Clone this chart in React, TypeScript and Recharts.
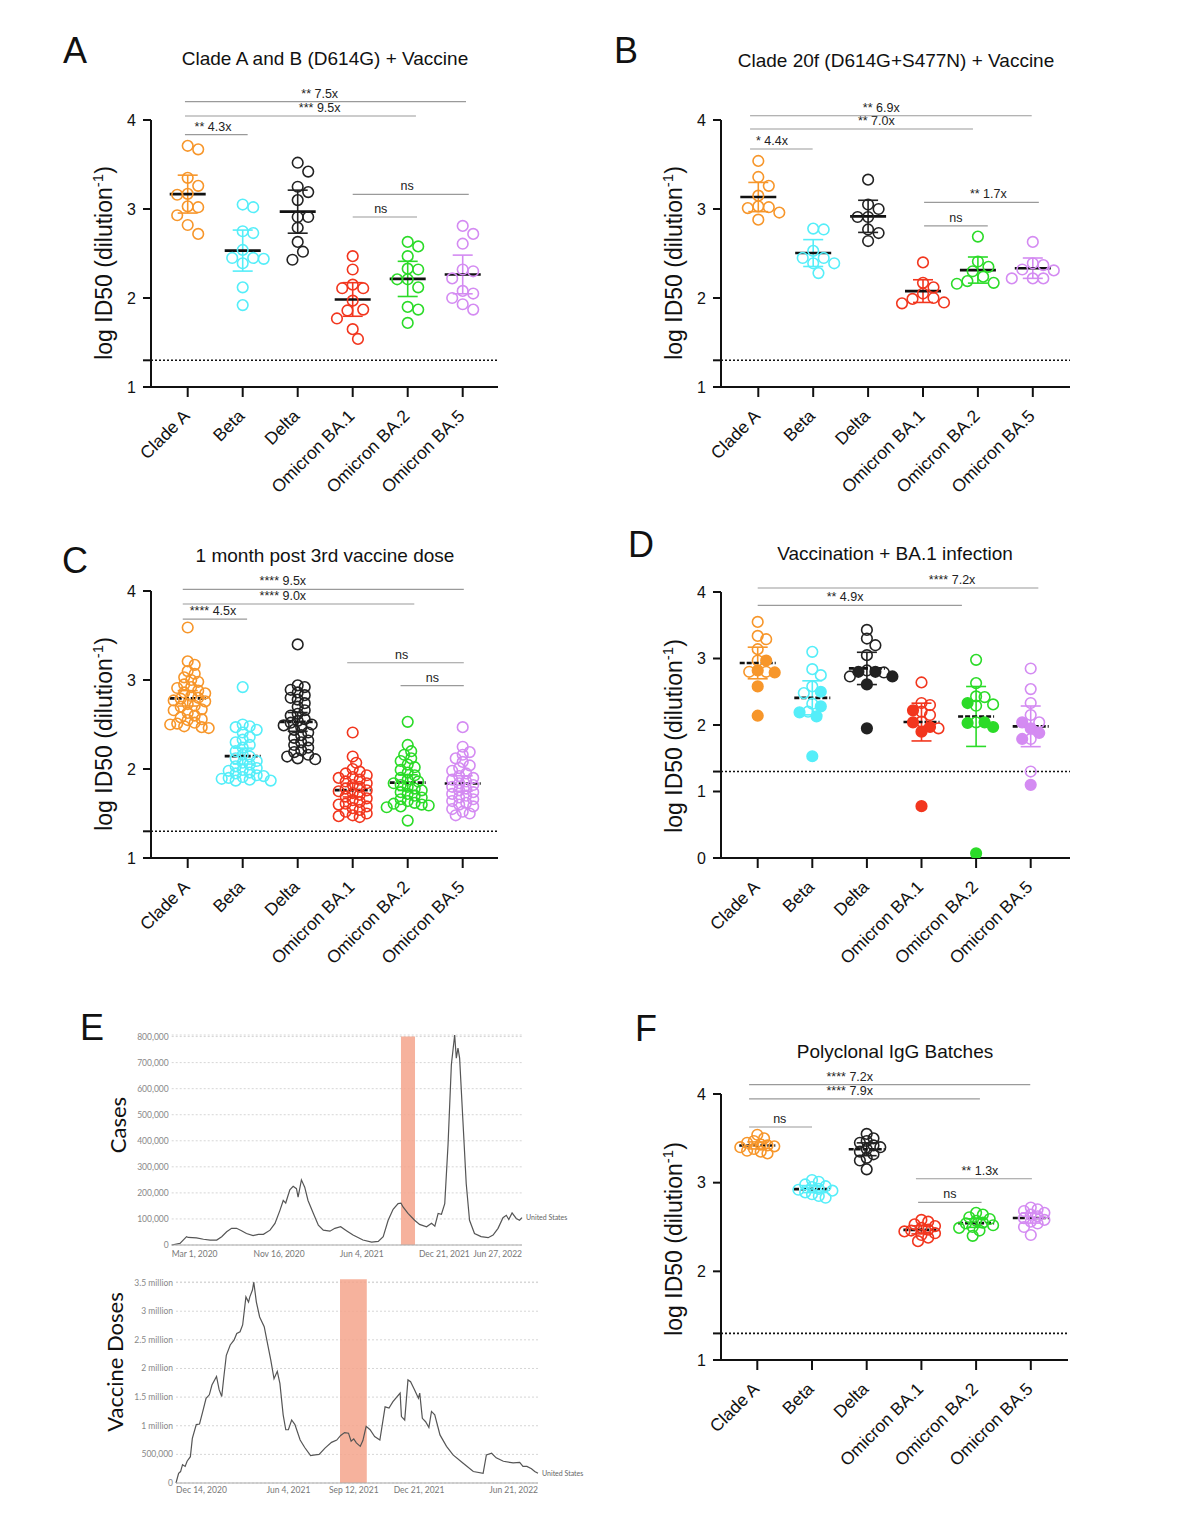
import React from "react";
import {
  CartesianGrid,
  Line,
  LineChart,
  ReferenceArea,
  ReferenceLine,
  Scatter,
  ScatterChart,
  XAxis,
  YAxis,
} from "recharts";

const FONT = '"Liberation Sans", Arial, Helvetica, sans-serif';
const OWID = 'Lato, "Open Sans", sans-serif';

const variants = ["Clade A", "Beta", "Delta", "Omicron BA.1", "Omicron BA.2", "Omicron BA.5"];
const variantColors = ["#F7962A", "#55EEF9", "#222222", "#F2361E", "#2BDB28", "#D48BF2"];

// log ID50 per serum sample, one list per variant (same order as `variants`)
const d614gVaccine = [
  [3.71, 3.67, 3.35, 3.26, 3.17, 3.16, 3.03, 3.02, 2.93, 2.82, 2.72],
  [3.05, 3.02, 2.75, 2.73, 2.54, 2.45, 2.45, 2.44, 2.39, 2.12, 1.92],
  [3.52, 3.42, 3.25, 3.19, 3.1, 2.91, 2.91, 2.79, 2.63, 2.52, 2.43],
  [2.47, 2.32, 2.15, 2.11, 2.11, 1.97, 1.87, 1.86, 1.77, 1.65, 1.54],
  [2.63, 2.58, 2.47, 2.33, 2.32, 2.21, 2.21, 2.12, 1.9, 1.87, 1.72],
  [2.81, 2.72, 2.61, 2.32, 2.3, 2.22, 2.08, 2.05, 2.0, 1.93, 1.87],
];

const s477nVaccine = [
  [3.54, 3.36, 3.26, 3.15, 3.03, 3.02, 3.01, 2.96, 2.88],
  [2.78, 2.77, 2.53, 2.45, 2.45, 2.39, 2.39, 2.28],
  [3.33, 3.05, 3.0, 2.91, 2.91, 2.77, 2.73, 2.64],
  [2.4, 2.17, 2.12, 2.05, 2.0, 1.99, 1.95, 1.94],
  [2.69, 2.41, 2.35, 2.3, 2.24, 2.19, 2.17, 2.16],
  [2.63, 2.39, 2.37, 2.32, 2.31, 2.22, 2.22, 2.22],
];

const thirdDose = [
  [3.59, 3.21, 3.17, 3.1, 3.07, 3.03, 3.0, 2.98, 2.95, 2.92, 2.91, 2.88, 2.86, 2.85, 2.82, 2.8, 2.79, 2.77,
    2.76, 2.73, 2.71, 2.7, 2.67, 2.66, 2.63, 2.6, 2.58, 2.56, 2.55, 2.52, 2.51, 2.5, 2.48, 2.47, 2.46],
  [2.92, 2.5, 2.48, 2.47, 2.44, 2.41, 2.36, 2.33, 2.3, 2.27, 2.24, 2.2, 2.16, 2.14, 2.12, 2.09, 2.07, 2.05,
    2.03, 2.01, 1.99, 1.98, 1.96, 1.95, 1.93, 1.92, 1.91, 1.9, 1.89, 1.88, 1.87, 1.87],
  [3.4, 2.94, 2.92, 2.89, 2.86, 2.83, 2.8, 2.78, 2.74, 2.7, 2.66, 2.62, 2.6, 2.56, 2.54, 2.52, 2.5, 2.49,
    2.47, 2.44, 2.41, 2.38, 2.35, 2.32, 2.3, 2.27, 2.24, 2.21, 2.19, 2.16, 2.14, 2.12, 2.11],
  [2.41, 2.14, 2.07, 2.0, 1.97, 1.95, 1.93, 1.91, 1.9, 1.88, 1.86, 1.84, 1.82, 1.8, 1.78, 1.76, 1.75, 1.73,
    1.71, 1.69, 1.67, 1.65, 1.63, 1.61, 1.6, 1.58, 1.56, 1.54, 1.52, 1.5, 1.48, 1.47, 1.46],
  [2.53, 2.27, 2.2, 2.16, 2.12, 2.09, 2.05, 2.02, 1.99, 1.96, 1.93, 1.9, 1.88, 1.86, 1.84, 1.82, 1.8, 1.78,
    1.76, 1.74, 1.72, 1.7, 1.68, 1.66, 1.64, 1.62, 1.61, 1.6, 1.59, 1.58, 1.57, 1.42],
  [2.47, 2.25, 2.19, 2.16, 2.12, 2.08, 2.04, 2.01, 1.98, 1.95, 1.92, 1.9, 1.88, 1.86, 1.84, 1.82, 1.8, 1.78,
    1.76, 1.74, 1.72, 1.7, 1.68, 1.66, 1.64, 1.62, 1.6, 1.58, 1.55, 1.52, 1.5, 1.48],
];

// vaccination + BA.1 infection: open and filled symbols
const ba1InfectionOpen = [
  [3.55, 3.34, 3.29, 3.14, 2.97, 2.8, 2.8],
  [3.1, 2.84, 2.75, 2.58, 2.48, 2.32, 2.2],
  [3.43, 3.3, 3.2, 3.05, 2.79, 2.82, 2.73],
  [2.64, 2.33, 2.3, 2.2, 2.15, 2.05, 1.95],
  [2.98, 2.63, 2.43, 2.42, 2.31, 2.29, 2.04],
  [2.85, 2.54, 2.33, 2.15, 2.04, 1.79, 1.3],
];
const ba1InfectionFilled = [
  [2.97, 2.82, 2.79, 2.58, 2.14],
  [2.5, 2.28, 2.19, 2.13, 1.53],
  [2.8, 2.8, 2.73, 2.61, 1.95],
  [2.22, 2.04, 1.97, 1.9, 0.78],
  [2.33, 2.04, 2.03, 1.97, 0.07],
  [2.04, 1.95, 1.88, 1.79, 1.1],
];

const iggBatches = [
  [3.54, 3.5, 3.47, 3.45, 3.43, 3.42, 3.41, 3.4, 3.38, 3.36, 3.35, 3.33],
  [3.03, 3.01, 2.98, 2.96, 2.95, 2.93, 2.92, 2.91, 2.89, 2.87, 2.85, 2.83],
  [3.55, 3.5, 3.47, 3.45, 3.42, 3.4, 3.38, 3.35, 3.32, 3.28, 3.25, 3.15],
  [2.58, 2.56, 2.53, 2.51, 2.49, 2.47, 2.46, 2.45, 2.43, 2.41, 2.38, 2.34],
  [2.66, 2.64, 2.61, 2.59, 2.57, 2.55, 2.54, 2.52, 2.5, 2.49, 2.46, 2.4],
  [2.72, 2.7, 2.68, 2.66, 2.64, 2.62, 2.6, 2.58, 2.56, 2.54, 2.5, 2.41],
];

// comparison brackets: x1/x2/at in category units, level in log ID50
type Bracket = { x1: number; x2: number; level: number; text: string; at: number };

const d614gBrackets: Bracket[] = [
  { x1: -0.05, x2: 1.09, level: 3.835, text: "** 4.3x", at: 0.46 },
  { x1: -0.05, x2: 4.15, level: 4.045, text: "*** 9.5x", at: 2.4 },
  { x1: -0.05, x2: 5.06, level: 4.206, text: "** 7.5x", at: 2.4 },
  { x1: 3.0, x2: 5.11, level: 3.165, text: "ns", at: 3.99 },
  { x1: 3.0, x2: 4.17, level: 2.91, text: "ns", at: 3.51 },
];
const s477nBrackets: Bracket[] = [
  { x1: -0.15, x2: 0.99, level: 3.674, text: "* 4.4x", at: 0.25 },
  { x1: -0.15, x2: 3.91, level: 3.899, text: "** 7.0x", at: 2.15 },
  { x1: -0.15, x2: 4.98, level: 4.048, text: "** 6.9x", at: 2.24 },
  { x1: 3.02, x2: 4.18, level: 2.81, text: "ns", at: 3.6 },
  { x1: 3.02, x2: 5.11, level: 3.075, text: "** 1.7x", at: 4.19 },
];
const thirdDoseBrackets: Bracket[] = [
  { x1: -0.09, x2: 1.08, level: 3.685, text: "**** 4.5x", at: 0.46 },
  { x1: -0.09, x2: 4.12, level: 3.854, text: "**** 9.0x", at: 1.73 },
  { x1: -0.09, x2: 5.02, level: 4.019, text: "**** 9.5x", at: 1.73 },
  { x1: 2.9, x2: 5.02, level: 3.194, text: "ns", at: 3.89 },
  { x1: 3.87, x2: 5.02, level: 2.936, text: "ns", at: 4.45 },
];
const ba1InfectionBrackets: Bracket[] = [
  { x1: 0, x2: 3.74, level: 3.8, text: "**  4.9x", at: 1.6 },
  { x1: 0, x2: 5.14, level: 4.06, text: "**** 7.2x", at: 3.56 },
];
const iggBrackets: Bracket[] = [
  { x1: -0.15, x2: 1.0, level: 3.628, text: "ns", at: 0.41 },
  { x1: -0.15, x2: 4.07, level: 3.944, text: "**** 7.9x", at: 1.69 },
  { x1: -0.15, x2: 4.99, level: 4.105, text: "**** 7.2x", at: 1.69 },
  { x1: 2.94, x2: 4.1, level: 2.777, text: "ns", at: 3.52 },
  { x1: 2.9, x2: 5.02, level: 3.044, text: "** 1.3x", at: 4.07 },
];

// US daily cases (thousands), days since Mar 1, 2020
const caseDays = [0, 20, 36, 40, 60, 77, 93, 109, 121, 133, 145, 157, 169, 181, 197, 210, 222, 238, 250, 262,
  270, 276, 286, 294, 302, 306, 314, 322, 330, 343, 355, 367, 383, 395, 409, 423, 439, 463, 484, 500, 512, 524,
  536, 548, 555, 560, 572, 588, 600, 617, 629, 637, 645, 653, 661, 669, 677, 685, 689, 693, 697, 705, 713, 721,
  733, 749, 766, 778, 790, 802, 810, 816, 824, 834, 842, 848];
const caseThousands = [0, 6, 32, 29, 27, 22, 19, 19, 32, 51, 64, 64, 55, 44, 36, 41, 41, 57, 83, 133,
  171, 161, 212, 225, 216, 184, 250, 222, 171, 121, 76, 57, 53, 64, 70, 55, 38, 19, 11, 14, 32, 95,
  137, 159, 161, 146, 121, 95, 79, 70, 83, 72, 121, 118, 159, 387, 692, 806, 717, 756, 717, 476, 235, 95,
  44, 32, 28, 38, 64, 105, 114, 98, 123, 102, 95, 105];
const caseTickDays = [0, 260, 460, 660, 848];
const caseTickLabels = ["Mar 1, 2020", "Nov 16, 2020", "Jun 4, 2021", "Dec 21, 2021", "Jun 27, 2022"];
const caseBand = [555, 589];

// US daily vaccine doses (millions), days since Dec 14, 2020
const doseDays = [0, 4, 7, 10, 14, 17, 22, 25, 31, 36, 41, 46, 51, 55, 62, 66, 70, 73, 77, 83, 89, 93, 98, 102,
  107, 111, 113, 117, 119, 123, 128, 135, 140, 145, 150, 155, 159, 164, 168, 172, 177, 182, 190, 197, 206, 213,
  219, 228, 238, 246, 252, 258, 264, 268, 272, 276, 282, 286, 291, 297, 304, 312, 320, 326, 332, 343, 345, 350,
  355, 359, 365, 371, 373, 377, 382, 387, 391, 396, 404, 414, 424, 439, 455, 470, 475, 483, 490, 501, 516, 526,
  531, 537, 544, 549, 554];
const doseMillions = [0, 0.17, 0.2, 0.32, 0.29, 0.38, 0.46, 0.78, 1.02, 1.03, 1.25, 1.48, 1.54, 1.71, 1.86, 1.63,
  1.51, 1.83, 2.23, 2.41, 2.5, 2.61, 2.64, 2.76, 3.25, 3.16, 3.25, 3.37, 3.51, 3.16, 2.9, 2.73, 2.44, 2.15, 1.82,
  1.95, 1.74, 1.19, 0.93, 0.93, 1.1, 1.02, 0.75, 0.62, 0.48, 0.49, 0.5, 0.61, 0.71, 0.75, 0.83, 0.88, 0.87, 0.73,
  0.77, 0.7, 0.64, 0.74, 0.99, 0.93, 0.81, 0.75, 1.33, 1.31, 1.42, 1.57, 1.16, 1.1, 1.8, 1.77, 1.63, 1.48, 1.57,
  1.13, 1.07, 0.97, 1.25, 1.19, 0.84, 0.64, 0.49, 0.35, 0.2, 0.17, 0.49, 0.52, 0.44, 0.38, 0.35, 0.36, 0.29, 0.29,
  0.25, 0.2, 0.17];
const doseTickDays = [0, 172, 272, 372, 554];
const doseTickLabels = ["Dec 14, 2020", "Jun 4, 2021", "Sep 12, 2021", "Dec 21, 2021", "Jun 21, 2022"];
const doseBand = [251, 292];

type Panel = {
  groups: number[][];
  filled?: number[][];
  brackets: Bracket[];
  box: { left: number; top: number; width: number; height: number };
  cat0: number;
  step: number;
  yDomain: [number, number];
  yTicks: number[];
  dashedMean: boolean;
  minDist: number;
};

const panels: Panel[] = [
  { groups: d614gVaccine, brackets: d614gBrackets, box: { left: 151, top: 120, width: 347, height: 267 },
    cat0: 187.7, step: 55, yDomain: [1, 4], yTicks: [1, 1.3, 2, 3, 4], dashedMean: false, minDist: 10.5 },
  { groups: s477nVaccine, brackets: s477nBrackets, box: { left: 721, top: 120, width: 349, height: 267 },
    cat0: 758.3, step: 54.9, yDomain: [1, 4], yTicks: [1, 1.3, 2, 3, 4], dashedMean: false, minDist: 10.5 },
  { groups: thirdDose, brackets: thirdDoseBrackets, box: { left: 151, top: 591, width: 347, height: 267 },
    cat0: 187.7, step: 55, yDomain: [1, 4], yTicks: [1, 1.3, 2, 3, 4], dashedMean: true, minDist: 7 },
  { groups: ba1InfectionOpen, filled: ba1InfectionFilled, brackets: ba1InfectionBrackets,
    box: { left: 721, top: 592, width: 349, height: 266 }, cat0: 757.7, step: 54.6, yDomain: [0, 4],
    yTicks: [0, 1, 1.3, 2, 3, 4], dashedMean: true, minDist: 8.5 },
  { groups: iggBatches, brackets: iggBrackets, box: { left: 721, top: 1094, width: 347, height: 266 },
    cat0: 757.3, step: 54.7, yDomain: [1, 4], yTicks: [1, 1.3, 2, 3, 4], dashedMean: true, minDist: 6.8 },
];

// simple beeswarm: returns horizontal pixel offsets for each value
function swarm(values: number[], pxPerUnit: number, minDist: number) {
  const order = values.map((_, i) => i).sort((a, b) => values[b] - values[a]);
  const placed: { x: number; y: number }[] = [];
  const offsets = new Array(values.length).fill(0);
  const stepPx = minDist / 2;
  for (const i of order) {
    const y = values[i] * pxPerUnit;
    let chosen = 0;
    for (let k = 0; k < 60; k++) {
      const cand = k === 0 ? 0 : (k % 2 ? 1 : -1) * Math.ceil(k / 2) * stepPx;
      if (placed.every((p) => Math.hypot(p.x - cand, p.y - y) >= minDist)) {
        chosen = cand;
        break;
      }
    }
    placed.push({ x: chosen, y });
    offsets[i] = chosen;
  }
  return offsets;
}

// mean with 95% confidence interval
function meanCI(values: number[]) {
  const n = values.length;
  const mean = values.reduce((s, v) => s + v, 0) / n;
  const sd = Math.sqrt(values.reduce((s, v) => s + (v - mean) ** 2, 0) / (n - 1));
  const df = n - 1;
  const z = 1.96;
  const t = z + (z ** 3 + z) / (4 * df) + (5 * z ** 5 + 16 * z ** 3 + 3 * z) / (96 * df * df);
  const half = (t * sd) / Math.sqrt(n);
  return { mean, lo: mean - half, hi: mean + half };
}

function VariantTick(props: any) {
  const { x, y, payload } = props;
  const tx = x + 3;
  const ty = y + 18;
  return (
    <text x={tx} y={ty} textAnchor="end" transform={`rotate(-45 ${tx} ${ty})`} fontSize={17.5}
      fontFamily={FONT} fill="#111">
      {variants[payload.value]}
    </text>
  );
}

const ring = (color: string, solid: boolean) => (p: any) => (
  <circle cx={p.cx} cy={p.cy} r={5.3} fill={solid ? color : "none"} stroke={color} strokeWidth={1.6} />
);

function DotPanel({ panel }: { panel: Panel }) {
  const { box, cat0, step, yDomain, groups, filled, brackets } = panel;
  const W = box.width + 105;
  const H = box.height + 195;
  const xDomain: [number, number] = [(box.left - cat0) / step, (box.left + box.width - cat0) / step];
  const pxPerY = box.height / (yDomain[1] - yDomain[0]);
  const meanHalf = 18 / step;
  const capHalf = 10 / step;

  const openSeries: { x: number; y: number }[][] = [];
  const filledSeries: { x: number; y: number }[][] = [];
  const stats = groups.map((vals, g) => {
    const solid = filled ? filled[g] : [];
    const all = [...vals, ...solid];
    const offs = swarm(all, pxPerY, panel.minDist);
    openSeries.push(vals.map((v, i) => ({ x: g + offs[i] / step, y: v })));
    filledSeries.push(solid.map((v, i) => ({ x: g + offs[vals.length + i] / step, y: v })));
    return meanCI(all);
  });

  return (
    <div style={{ position: "absolute", left: box.left - 95, top: box.top - 80 }}>
      <ScatterChart width={W} height={H} margin={{ top: 80, right: 10, bottom: 5, left: 55 }}>
        <XAxis type="number" dataKey="x" domain={xDomain} ticks={[0, 1, 2, 3, 4, 5]} interval={0}
          allowDataOverflow height={110} tickSize={10} tick={<VariantTick />}
          axisLine={{ stroke: "#111", strokeWidth: 2 }} tickLine={{ stroke: "#111", strokeWidth: 2 }} />
        <YAxis type="number" dataKey="y" domain={yDomain} ticks={panel.yTicks} interval={0} allowDataOverflow
          width={40} tickSize={8} tickMargin={7}
          tickFormatter={(v: number) => (v === 1.3 ? "" : String(v))}
          tick={{ fontSize: 16, fill: "#111", fontFamily: FONT }}
          axisLine={{ stroke: "#111", strokeWidth: 2 }} tickLine={{ stroke: "#111", strokeWidth: 2 }} />
        <ReferenceLine y={1.3} stroke="#111" strokeWidth={1.6} strokeDasharray="2 2" />
        {openSeries.map((pts, g) => (
          <Scatter key={`o${g}`} data={pts} shape={ring(variantColors[g], false)} isAnimationActive={false} />
        ))}
        {filledSeries.map((pts, g) => (
          <Scatter key={`f${g}`} data={pts} shape={ring(variantColors[g], true)} isAnimationActive={false} />
        ))}
        {stats.map((s, g) => (
          <ReferenceLine key={`ci${g}`} segment={[{ x: g, y: s.lo }, { x: g, y: s.hi }]}
            stroke={variantColors[g]} strokeWidth={1.6} ifOverflow="visible" />
        ))}
        {stats.map((s, g) =>
          [s.lo, s.hi].map((v, j) => (
            <ReferenceLine key={`cap${g}-${j}`} segment={[{ x: g - capHalf, y: v }, { x: g + capHalf, y: v }]}
              stroke={variantColors[g]} strokeWidth={1.6} ifOverflow="visible" />
          ))
        )}
        {stats.map((s, g) => (
          <ReferenceLine key={`m${g}`} segment={[{ x: g - meanHalf, y: s.mean }, { x: g + meanHalf, y: s.mean }]}
            stroke="#111" strokeWidth={2.6} strokeDasharray={panel.dashedMean ? "5 2" : undefined}
            ifOverflow="visible" />
        ))}
        {brackets.map((b, i) => (
          <ReferenceLine key={`b${i}`} segment={[{ x: b.x1, y: b.level }, { x: b.x2, y: b.level }]}
            stroke="#9a9a9a" strokeWidth={1.2} ifOverflow="visible"
            label={(p: any) => {
              const vb = p.viewBox || {};
              const frac = (b.at - b.x1) / (b.x2 - b.x1);
              return (
                <text x={vb.x + frac * vb.width} y={vb.y - 4} textAnchor="middle" fontSize={12.5}
                  fontFamily={FONT} fill="#222">
                  {b.text}
                </text>
              );
            }} />
        ))}
      </ScatterChart>
    </div>
  );
}

const dateTick = (days: number[], labels: string[], lift: number) => (props: any) => {
  const { x, y, payload } = props;
  const i = days.indexOf(payload.value);
  const anchor = i === 0 ? "start" : i === days.length - 1 ? "end" : "middle";
  return (
    <text x={x} y={y + lift} textAnchor={anchor} fontSize={8.5} fontFamily={OWID} fill="#777">
      {labels[i]}
    </text>
  );
};

const endLabel = (count: number) => (p: any) =>
  p.index === count - 1 ? (
    <text x={p.x + 4} y={p.y} dy="0.35em" fontSize={7} fontFamily={OWID} fill="#666">
      United States
    </text>
  ) : null;

function CasesChart() {
  const data = caseDays.map((d, i) => ({ day: d, cases: caseThousands[i] }));
  return (
    <div style={{ position: "absolute", left: 100, top: 1025 }}>
      <LineChart width={482} height={240} data={data} margin={{ top: 10, right: 60, left: 0, bottom: 0 }}>
        <CartesianGrid vertical={false} stroke="#d6d6d6" strokeDasharray="2 2" />
        <ReferenceArea x1={caseBand[0]} x2={caseBand[1]} y1={0} y2={800} fill="#F5A58C" fillOpacity={0.85}
          stroke="none" />
        <XAxis type="number" dataKey="day" domain={[0, 848]} ticks={caseTickDays} interval={0} height={20}
          tickSize={0} tick={dateTick(caseTickDays, caseTickLabels, 9.5)} axisLine={{ stroke: "#aaa" }} />
        <YAxis type="number" domain={[0, 800]} ticks={[0, 100, 200, 300, 400, 500, 600, 700, 800]} interval={0}
          width={71.7} tickSize={0} tickMargin={3} axisLine={false}
          tickFormatter={(v: number) => (v === 0 ? "0" : (v * 1000).toLocaleString("en-US"))}
          tick={{ fontSize: 8.5, fill: "#888", fontFamily: OWID }} />
        <Line type="linear" dataKey="cases" stroke="#555" strokeWidth={1.2} dot={false}
          isAnimationActive={false} label={endLabel(data.length)} />
      </LineChart>
    </div>
  );
}

function DosesChart() {
  const data = doseDays.map((d, i) => ({ day: d, doses: doseMillions[i] }));
  return (
    <div style={{ position: "absolute", left: 100, top: 1272 }}>
      <LineChart width={498} height={231} data={data} margin={{ top: 10, right: 60, left: 0, bottom: 0 }}>
        <CartesianGrid vertical={false} stroke="#d6d6d6" strokeDasharray="2 2" />
        <ReferenceArea x1={doseBand[0]} x2={doseBand[1]} y1={0} y2={3.56} fill="#F5A58C" fillOpacity={0.85}
          stroke="none" ifOverflow="visible" />
        <XAxis type="number" dataKey="day" domain={[0, 554]} ticks={doseTickDays} interval={0} height={20}
          tickSize={0} tick={dateTick(doseTickDays, doseTickLabels, 8)} axisLine={{ stroke: "#aaa" }} />
        <YAxis type="number" domain={[0, 3.5]} ticks={[0, 0.5, 1, 1.5, 2, 2.5, 3, 3.5]} interval={0}
          width={76} tickSize={0} tickMargin={3} axisLine={false}
          tickFormatter={(v: number) => (v === 0 ? "0" : v === 0.5 ? "500,000" : `${v} million`)}
          tick={{ fontSize: 8.5, fill: "#888", fontFamily: OWID }} />
        <Line type="linear" dataKey="doses" stroke="#555" strokeWidth={1.2} dot={false}
          isAnimationActive={false} label={endLabel(data.length)} />
      </LineChart>
    </div>
  );
}

const letters = [
  { t: "A", x: 63, y: 63 },
  { t: "B", x: 614, y: 63 },
  { t: "C", x: 62, y: 573 },
  { t: "D", x: 628, y: 557 },
  { t: "E", x: 80, y: 1040 },
  { t: "F", x: 635, y: 1041 },
];
const titles = [
  { t: "Clade A and B (D614G) + Vaccine", x: 325, y: 65 },
  { t: "Clade 20f (D614G+S477N) + Vaccine", x: 896, y: 67 },
  { t: "1 month post 3rd vaccine dose", x: 325, y: 562 },
  { t: "Vaccination + BA.1 infection", x: 895, y: 560 },
  { t: "Polyclonal IgG Batches", x: 895, y: 1058 },
];
const yLabels = [
  { x: 112, y: 263 },
  { x: 682, y: 263 },
  { x: 112, y: 734 },
  { x: 682, y: 736 },
  { x: 682, y: 1239 },
];

function Captions() {
  return (
    <svg width={1186} height={1540} style={{ position: "absolute", left: 0, top: 0, pointerEvents: "none" }}
      fontFamily={FONT} fill="#111">
      {letters.map((l) => (
        <text key={l.t} x={l.x} y={l.y} fontSize={36}>
          {l.t}
        </text>
      ))}
      {titles.map((t) => (
        <text key={t.t} x={t.x} y={t.y} fontSize={19} textAnchor="middle">
          {t.t}
        </text>
      ))}
      {yLabels.map((l, i) => (
        <text key={i} x={l.x} y={l.y} fontSize={23} textAnchor="middle" transform={`rotate(-90 ${l.x} ${l.y})`}>
          log ID50 (dilution
          <tspan dy={-9} fontSize={15}>
            -1
          </tspan>
          <tspan dy={9}>)</tspan>
        </text>
      ))}
      <text x={126} y={1125} fontSize={22} fontFamily={OWID} textAnchor="middle" transform="rotate(-90 126 1125)">
        Cases
      </text>
      <text x={123} y={1362} fontSize={22} fontFamily={OWID} textAnchor="middle" transform="rotate(-90 123 1362)">
        Vaccine Doses
      </text>
    </svg>
  );
}

export default function App() {
  return (
    <div style={{ position: "absolute", left: 0, top: 0, width: 1186, height: 1540, background: "#fff",
      overflow: "hidden" }}>
      {panels.map((p, i) => (
        <DotPanel key={i} panel={p} />
      ))}
      <CasesChart />
      <DosesChart />
      <Captions />
    </div>
  );
}
